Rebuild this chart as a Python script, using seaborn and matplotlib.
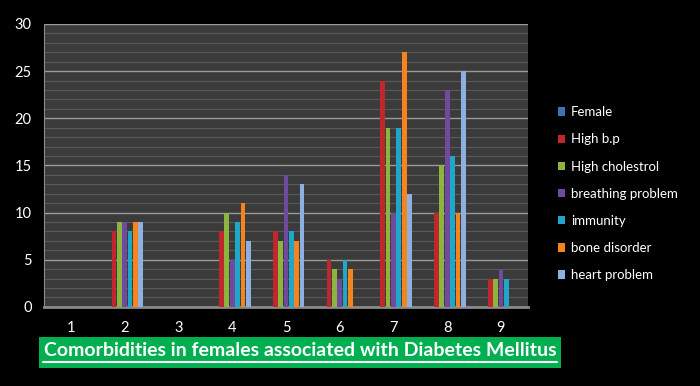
import pandas as pd
import matplotlib.pyplot as plt
import seaborn as sns
import numpy as np
from matplotlib.lines import Line2D
from matplotlib.patches import Rectangle

groups = ['1', '2', '3', '4', '5', '6', '7', '8', '9']
series = ['Female', 'High b.p', 'High cholestrol', 'breathing problem',
          'immunity', 'bone disorder', 'heart problem']
female = [0, 0, 0, 0, 0, 0, 0, 0, 0]
high_bp = [0, 8, 0, 8, 8, 5, 24, 10, 3]
high_chol = [0, 9, 0, 10, 7, 4, 19, 15, 3]
breathing = [0, 9, 0, 5, 14, 3, 10, 23, 4]
immunity = [0, 8, 0, 9, 8, 5, 19, 16, 3]
bone = [0, 9, 0, 11, 7, 4, 27, 10, 0]
heart = [0, 9, 0, 7, 13, 0, 12, 25, 0]
colors = ['#3f72b5', '#c0272d', '#8db43e', '#6f4a9e', '#1fa7c9', '#f5841f', '#8eb0e0']

vals = [female, high_bp, high_chol, breathing, immunity, bone, heart]
rows = []
for s, v in zip(series, vals):
    for g, x in zip(groups, v):
        rows.append({'group': g, 'series': s, 'value': x})
df = pd.DataFrame(rows)

sns.set_style('dark')
plt.rcParams['font.family'] = ['Lato', 'DejaVu Sans']

fig = plt.figure(figsize=(7, 3.86), dpi=100, facecolor='black')
ax = fig.add_axes([0.063, 0.205, 0.691, 0.733])
ax.set_facecolor('#3b3b3b')

sns.barplot(data=df, x='group', y='value', hue='series', palette=colors,
            width=0.7, gap=0.12, ax=ax, zorder=3, legend=True,
            linewidth=0, edgecolor='none', saturation=1)

ax.set_ylim(0, 30)
ax.set_yticks(range(0, 31, 5))
ax.set_yticks(range(0, 31), minor=True)
ax.grid(True, which='minor', axis='y', color='#5a5a5a', lw=0.8, zorder=0)
ax.grid(True, which='major', axis='y', color='#9a9a9a', lw=1.0, zorder=1)
ax.grid(False, axis='x')
ax.set_xlabel('')
ax.set_ylabel('')
for sp in ['top', 'right']:
    ax.spines[sp].set_visible(False)
ax.spines['left'].set_color('#8a8a8a')
ax.spines['bottom'].set_color('#8a8a8a')
ax.spines['bottom'].set_linewidth(2)
ax.tick_params(axis='both', colors='white', labelsize=10.5, length=0, pad=10)
ax.tick_params(axis='y', length=4, color='#8a8a8a', pad=5)

leg = ax.legend(loc='center left', bbox_to_anchor=(1.037, 0.40), frameon=False,
                labelcolor='white', fontsize=9.5, handlelength=0.6, handleheight=0.6,
                handletextpad=0.4, labelspacing=1.15)

# green title box with underlined text
fig.add_artist(Rectangle((0.0557, 0.0466), 0.7457, 0.0803, facecolor='#00b050',
                         edgecolor='none', transform=fig.transFigure, zorder=1))
fig.text(0.4286, 0.092, 'Comorbidities in females associated with Diabetes Mellitus',
         color='white', fontsize=14, fontweight='bold', ha='center', va='center',
         zorder=4)
fig.add_artist(Line2D([0.062, 0.795], [0.062, 0.062], color='white', lw=1.5,
                      transform=fig.transFigure, zorder=5))

fig.savefig('out.png', facecolor='black')
